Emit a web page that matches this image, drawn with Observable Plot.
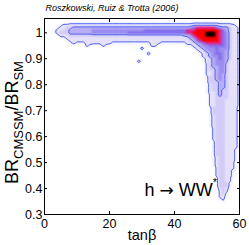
<!DOCTYPE html>
<html><head><meta charset="utf-8">
<script src="https://cdn.jsdelivr.net/npm/d3@7"></script>
<script src="https://cdn.jsdelivr.net/npm/@observablehq/plot@0.6"></script>
<style>body{margin:0;background:#fff}</style>
</head><body><div id="chart"></div>
<script>
// Posterior density levels (0..9).
// Grid columns: tanβ = 0..60 (step 1); rows: BR ratio 1.05 down to 0.30 (step 0.01).
// Upper band rows (BR 1.05 → 0.95), run-length "level*count", full width.
const bandRows = [
  "0*61",
  "0*8,1*50,0*3",
  "0*5,1,2*40,3*8,2*5,1,0",
  "0*4,1,2,2,3,3,4*36,5,6,7*6,6,5,4,4,3,2,2,1",
  "0*3,1,2,2,3,3,4*7,5*16,6*13,7*3,8*7,7,6,4,3,2,2,1",
  "0*3,1,2,3,3,3,4*7,5*11,6*18,7*2,8*4,9*3,8,7,6,5,3,2,2,1",
  "0*4,1,2,2,2,3*35,4*2,5,7,8*3,9*3,8,7,6,5,3,2,2,1",
  "0*5,1,1,2*37,3,4,5,7,8*6,7,6,5,3,2,2,1",
  "0*7,1,2*37,3,4,6,7,8*5,7,6,5,3,2,2,1",
  "0*8,1,2,1,1,1,2*8,1*12,2*3,1*8,2,2,3,4,5,6,7,7,7,7,7,6,5,3,2,2,1",
  "0*13,2,1,0*3,2,1,0*13,2,2,0*9,1,1,2,3,4,5,5,6,6,6,6,6,5,3,2,2,1"
];
// Vertical tail rows (BR 0.94 → 0.30), one digit per column for tanβ = 44..60.
const tailStartTan = 44;
const tailRows = [
  "00123455565553221","00012345565543221","00001234566543221","00001234556543221",
  "00000123456543221","00000123455542221","00000023455532221","00000023445532221",
  "00000023345532221","00000022345532221","00000022345432221","00000013345432221",
  "00000013345432221","00000013334432221","00000012334432221","00000012334432221",
  "00000012334332221","00000012234332221","00000002234332221","00000002233332221",
  "00000002233322221","00000002233322221","00000002233322221","00000001333322220",
  "00000001333322220","00000001333322220","00000001233322220","00000001233322220",
  "00000001233322220","00000001233322220","00000001233322220","00000000233322220",
  "00000000233322220","00000000233322220","00000000233322220","00000000233322220",
  "00000000133322220","00000000133322220","00000000133322220","00000000133322210",
  "00000000133322210","00000000133322210","00000000123322210","00000000123322210",
  "00000000123322200","00000000123322200","00000000023322200","00000000023322100",
  "00000000023322100","00000000023322100","00000000013322000","00000000013322000",
  "00000000013331000","00000000013331000","00000000012321000","00000000002320000",
  "00000000002310000","00000000002210000","00000000001200000","00000000000100000",
  "0","0","0","0","0"
];
// small isolated islands below the band
const islandTan = [30, 32, 29];
const islandBR = [0.94, 0.92, 0.89];
const islandLevel = [3, 3, 3];

const nCols = 61, nRows = 76, topBR = 1.05, stepBR = 0.01;
const levels = [0,1,2,3,4,5,6,7,8,9];
const levelColors = ["#ffffff","#f4f2fe","#e6e1fb","#d3ccf8","#b8aef4","#9c8ef0","#8470ee","#e0268a","#ff0000","#100000"];
const contourLevels = [1.5, 3.5];
const xTicks = [0, 20, 40, 60];
const yTicks = [0.3, 0.4, 0.5, 0.6, 0.7, 0.8, 0.9, 1];
const yTickLabels = ["0.3","0.4","0.5","0.6","0.7","0.8","0.9","1"];

function decodeRLE(s) {
  const out = [];
  for (const part of s.split(",")) {
    const [v, n] = part.split("*");
    for (let k = 0; k < (n ? +n : 1); k++) out.push(+v);
  }
  return out;
}
const grid = new Array(nCols * nRows).fill(0);
bandRows.forEach((s, r) => {
  decodeRLE(s).slice(0, nCols).forEach((v, c) => grid[r * nCols + c] = v);
});
tailRows.forEach((s, i) => {
  const r = bandRows.length + i;
  [...s].forEach((ch, j) => { const c = tailStartTan + j; if (c < nCols) grid[r * nCols + c] = +ch; });
});
islandTan.forEach((t, i) => {
  const r = Math.round((topBR - islandBR[i]) / stepBR);
  grid[r * nCols + t] = islandLevel[i];
});

const gridOpts = {width: nCols, height: nRows, x1: -0.5, x2: nCols - 0.5,
  y1: topBR + stepBR / 2, y2: topBR - stepBR * (nRows - 0.5)};

const font = "Liberation Sans, Arial, Helvetica, sans-serif";
const svg = Plot.plot({
  width: 249, height: 245,
  marginLeft: 44, marginRight: 10, marginTop: 18, marginBottom: 31,
  style: {fontFamily: font, fontSize: "12.5px", background: "white", color: "black"},
  x: {domain: [0, 60]},
  y: {domain: [0.3, 1.055]},
  color: {type: "linear", domain: levels, range: levelColors, interpolate: "rgb"},
  marks: [
    Plot.raster(grid, {...gridOpts, fill: Plot.identity, clip: true}),
    Plot.contour(grid, {...gridOpts, value: Plot.identity, thresholds: contourLevels,
      fill: "none", stroke: "#5064f0", strokeWidth: 1, clip: true}),
    Plot.frame({stroke: "black"}),
    Plot.axisX(xTicks, {anchor: "bottom", tickSize: 3, dy: -3, tickFormat: () => "", label: null}),
    Plot.axisX(xTicks, {anchor: "top", tickSize: 3, dy: 3, tickFormat: () => "", label: null}),
    Plot.axisY(yTicks, {anchor: "left", tickSize: 3, dx: 3, tickFormat: () => "", label: null}),
    Plot.axisY(yTicks, {anchor: "right", tickSize: 3, dx: -3, tickFormat: () => "", label: null}),
    Plot.axisX(xTicks, {anchor: "bottom", tickSize: 0, tickPadding: 5, label: null, fontSize: 12.5}),
    Plot.axisY(yTicks, {anchor: "left", tickSize: 0, tickPadding: 2, label: null, fontSize: 12.5,
      tickFormat: d => yTickLabels[yTicks.indexOf(d)]}),
    Plot.text(["Roszkowski, Ruiz & Trotta (2006)"], {frameAnchor: "top-left", dx: 1, dy: -10.5,
      textAnchor: "start", lineAnchor: "middle", fontSize: 9, fontStyle: "italic"}),
    Plot.text(["tanβ"], {frameAnchor: "bottom", dy: 21, lineAnchor: "middle", fontSize: 14.5}),
    Plot.text(["BRCMSSM/BRSM"], {frameAnchor: "left", rotate: -90, dx: -32, dy: 6,
      textAnchor: "middle", lineAnchor: "middle", fontSize: 18}),
    Plot.text(["h → WW*"], {frameAnchor: "bottom-left", dx: 100, dy: -24,
      textAnchor: "start", lineAnchor: "middle", fontSize: 18})
  ]
});
document.getElementById("chart").appendChild(svg);

// rich text: subscripts / superscript
d3.select(svg).selectAll("text").each(function () {
  const t = d3.select(this);
  const s = this.textContent;
  if (s === "BRCMSSM/BRSM") {
    t.text("");
    t.append("tspan").text("BR");
    t.append("tspan").attr("dy", 5).attr("font-size", 13).text("CMSSM");
    t.append("tspan").attr("dy", -5).text("/BR");
    t.append("tspan").attr("dy", 5).attr("font-size", 13).text("SM");
  } else if (s === "h → WW*") {
    t.text("");
    t.append("tspan").text("h ");
    t.append("tspan").attr("font-family", "DejaVu Sans").attr("font-size", 17).text("→");
    t.append("tspan").text(" WW");
    t.append("tspan").attr("dy", -10).attr("font-size", 11).text("*");
  }
});
</script></body></html>
